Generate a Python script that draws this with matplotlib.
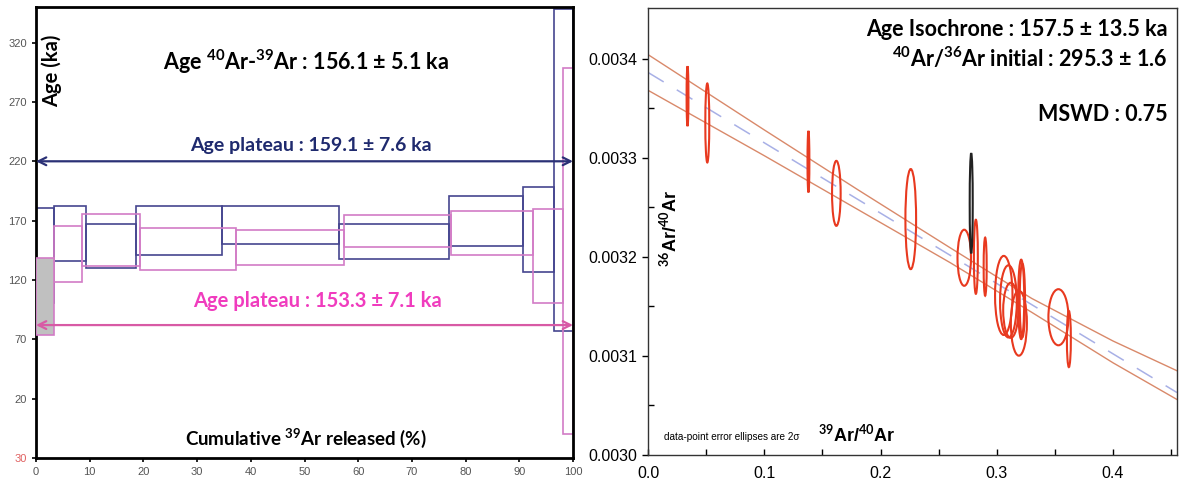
import matplotlib
matplotlib.use("Agg")
import matplotlib.pyplot as plt
from matplotlib.patches import Rectangle, Ellipse

# ---- left panel: age spectra (cumulative 39Ar %, age in ka) ----
navy_edges = [0, 3.3, 9.3, 18.7, 34.6, 56.4, 77.0, 90.6, 96.4, 100]
navy_top = [181, 182, 167, 182.5, 182.5, 167, 190.5, 198, 348]
navy_bot = [101, 136, 130, 141, 150, 137.5, 149, 126.5, 76.6]

pink_edges = [0, 3.3, 8.5, 19.4, 37.2, 57.4, 77.3, 92.6, 98.2, 100]
pink_top = [138.3, 165.6, 175.8, 164, 162.3, 175, 177.8, 180, 298.6]
pink_bot = [74, 118.6, 131.5, 128.8, 132.2, 147.4, 141.4, 100.6, -9.8]

navy_plateau_age = 220
pink_plateau_age = 82
age_ticks = [-30, 20, 70, 120, 170, 220, 270, 320]
age_ticklabels = ["30", "20", "70", "120", "170", "220", "270", "320"]

# ---- right panel: inverse isochrone ----
# (39Ar/40Ar, 36Ar/40Ar, half width, half height)
ell_x = [0.034, 0.051, 0.138, 0.162, 0.226, 0.272, 0.282, 0.290, 0.306,
         0.310, 0.312, 0.319, 0.321, 0.322, 0.353, 0.362]
ell_y = [0.003362, 0.003335, 0.003296, 0.003264, 0.003238, 0.003199, 0.003200,
         0.003190, 0.003161, 0.003155, 0.003146, 0.003133, 0.003157, 0.003156,
         0.003139, 0.003117]
ell_hw = [0.0008, 0.0017, 0.0008, 0.0037, 0.0046, 0.0058, 0.0017, 0.0013, 0.0075,
          0.0072, 0.0065, 0.0069, 0.0026, 0.0023, 0.0086, 0.0017]
ell_hh = [3.03e-5, 3.99e-5, 3.11e-5, 3.28e-5, 5.05e-5, 2.83e-5, 3.74e-5, 2.93e-5,
          3.99e-5, 3.64e-5, 2.78e-5, 3.28e-5, 4.01e-5, 3.71e-5, 2.83e-5, 2.83e-5]
black_x, black_y, black_hw, black_hh = 0.278, 0.003254, 0.0013, 5.05e-5

fit_x = [0, 0.455]
fit_y = [0.003386, 0.003063]
env_x = [0, 0.1, 0.18, 0.26, 0.33, 0.40, 0.455]
env_upper = [0.003404, 0.003328, 0.003268, 0.003209, 0.003158, 0.003115, 0.003085]
env_lower = [0.003368, 0.003302, 0.003248, 0.003194, 0.003144, 0.003093, 0.003056]

plt.rcParams["mathtext.fontset"] = "custom"
plt.rcParams["mathtext.rm"] = "Lato:bold"
plt.rcParams["mathtext.bf"] = "Lato:bold"
plt.rcParams["mathtext.default"] = "bf"

calibri = ["Lato", "DejaVu Sans"]
arial = ["Liberation Sans", "DejaVu Sans"]

fig = plt.figure(figsize=(11.79, 4.88), dpi=100)

# ================= left panel =================
ax1 = fig.add_axes([36 / 1179, 30 / 488, 537 / 1179, 451 / 488])
ax1.set_xlim(0, 100)
ax1.set_ylim(-30, 350)

for i in range(len(navy_top)):
    ax1.add_patch(Rectangle((navy_edges[i], navy_bot[i]), navy_edges[i + 1] - navy_edges[i],
                            navy_top[i] - navy_bot[i], fill=False, ec="#45458f", lw=1.2, zorder=2))
for i in range(len(pink_top)):
    face = "#c0c0c0" if i == 0 else "none"
    ax1.add_patch(Rectangle((pink_edges[i], pink_bot[i]), pink_edges[i + 1] - pink_edges[i],
                            pink_top[i] - pink_bot[i], fc=face, ec="#d27cc6", lw=1.2,
                            zorder=3 if i == 0 else 2))

ax1.annotate("", xy=(0, navy_plateau_age), xytext=(100, navy_plateau_age),
             arrowprops=dict(arrowstyle="<->", color="#2b3176", lw=1.6, mutation_scale=14,
                             shrinkA=0, shrinkB=0))
ax1.annotate("", xy=(0, pink_plateau_age), xytext=(100, pink_plateau_age),
             arrowprops=dict(arrowstyle="<->", color="#d85aa5", lw=1.6, mutation_scale=14,
                             shrinkA=0, shrinkB=0))

ax1.text(0.503, 0.878, r"Age $^{40}$Ar-$^{39}$Ar : 156.1 ± 5.1 ka", transform=ax1.transAxes,
         ha="center", va="center", fontsize=15.5, fontweight="bold", family=calibri)
ax1.text(0.512, 0.694, "Age plateau : 159.1 ± 7.6 ka", transform=ax1.transAxes,
         ha="center", va="center", fontsize=14, fontweight="bold", color="#1f2a6e", family=calibri)
ax1.text(0.525, 0.348, "Age plateau : 153.3 ± 7.1 ka", transform=ax1.transAxes,
         ha="center", va="center", fontsize=14.5, fontweight="bold", color="#f03cbe", family=calibri)
ax1.text(0.030, 0.858, "Age (ka)", transform=ax1.transAxes, rotation=90,
         ha="center", va="center", fontsize=14.5, fontweight="bold", family=calibri)
ax1.text(0.503, 0.044, r"Cumulative $^{39}$Ar released (%)", transform=ax1.transAxes,
         ha="center", va="center", fontsize=13.5, fontweight="bold", family=calibri)

ax1.set_yticks(age_ticks)
ax1.set_yticklabels(age_ticklabels)
ax1.set_xticks(range(0, 101, 10))
ax1.tick_params(axis="both", direction="out", length=3, width=1.2, colors="black",
                labelcolor="#555555", labelsize=8)
for lab in ax1.get_xticklabels() + ax1.get_yticklabels():
    lab.set_family(arial)
ax1.get_yticklabels()[0].set_color("#e06060")
for s in ax1.spines.values():
    s.set_linewidth(2)
    s.set_color("black")

# ================= right panel =================
ax2 = fig.add_axes([648 / 1179, 33 / 488, 529 / 1179, 447 / 488])
ax2.set_xlim(0, 0.455)
ax2.set_ylim(0.0030, 0.003451)

ax2.plot(fit_x, fit_y, color="#a8b0e6", lw=1.1, dashes=(12, 10), zorder=1)
ax2.plot(env_x, env_upper, color="#d9896a", lw=1.0, zorder=1)
ax2.plot(env_x, env_lower, color="#d9896a", lw=1.0, zorder=1)

for x, y, hw, hh in zip(ell_x, ell_y, ell_hw, ell_hh):
    ax2.add_patch(Ellipse((x, y), 2 * hw, 2 * hh, fill=False, ec="#e8391f", lw=1.5, zorder=3))
ax2.add_patch(Ellipse((black_x, black_y), 2 * black_hw, 2 * black_hh, fill=False,
                      ec="#222222", lw=1.5, zorder=4))

ax2.set_xticks([0.0, 0.1, 0.2, 0.3, 0.4])
ax2.set_xticklabels(["0.0", "0.1", "0.2", "0.3", "0.4"])
ax2.set_xticks([0.05, 0.15, 0.25, 0.35, 0.45], minor=True)
ax2.set_yticks([0.0030, 0.0031, 0.0032, 0.0033, 0.0034])
ax2.set_yticklabels(["0.0030", "0.0031", "0.0032", "0.0033", "0.0034"])
ax2.set_yticks([0.00305, 0.00315, 0.00325, 0.00335], minor=True)
ax2.tick_params(axis="x", which="both", direction="in", length=4, width=1, labelsize=11.5, pad=8)
ax2.tick_params(axis="y", which="major", direction="out", length=4, width=1, labelsize=11.5)
ax2.tick_params(axis="y", which="minor", direction="in", length=4, width=1)
for lab in ax2.get_xticklabels() + ax2.get_yticklabels():
    lab.set_family(arial)
for s in ax2.spines.values():
    s.set_linewidth(1)
    s.set_color("#333333")

ax2.text(0.0416, 0.508, r"$^{36}$Ar/$^{40}$Ar", transform=ax2.transAxes, rotation=90,
         ha="center", va="center", fontsize=13, fontweight="bold", family=arial)
ax2.text(0.395, 0.045, r"$^{39}$Ar/$^{40}$Ar", transform=ax2.transAxes,
         ha="center", va="center", fontsize=13, fontweight="bold", family=arial)
ax2.text(0.030, 0.040, "data-point error ellipses are 2σ", transform=ax2.transAxes,
         ha="left", va="center", fontsize=7.2, family=arial)
ax2.text(0.983, 0.951, "Age Isochrone : 157.5 ± 13.5 ka", transform=ax2.transAxes,
         ha="right", va="center", fontsize=15.5, fontweight="bold", family=calibri)
ax2.text(0.983, 0.888, r"$^{40}$Ar/$^{36}$Ar initial : 295.3 ± 1.6", transform=ax2.transAxes,
         ha="right", va="center", fontsize=15.5, fontweight="bold", family=calibri)
ax2.text(0.983, 0.761, "MSWD : 0.75", transform=ax2.transAxes,
         ha="right", va="center", fontsize=15.5, fontweight="bold", family=calibri)

fig.savefig("out.png", dpi=100)
